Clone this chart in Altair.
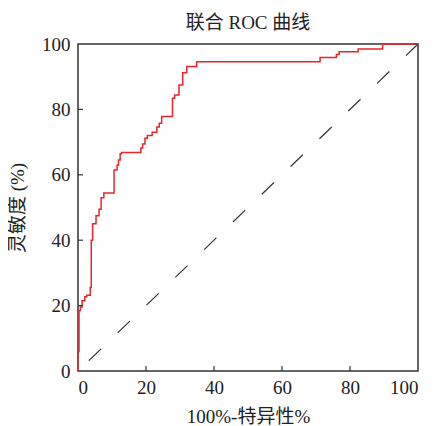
import altair as alt
import pandas as pd

# ROC curve corners (step-after): x = 100% - specificity, y = sensitivity
fpr = [0, 0, 0.3, 0.7, 1.2, 2.0, 2.6, 3.6, 3.9, 4.3, 5.3, 6.2, 6.8, 7.6, 10.6,
       11.5, 11.9, 12.4, 12.8, 18.5, 19.0, 19.7, 20.4, 21.8, 23.2, 23.9, 24.6,
       27.8, 28.4, 29.7, 30.8, 32.0, 34.9, 71.2, 76.0, 76.8, 82.4, 89.6, 100]
tpr = [0, 6, 18.5, 19.6, 21.5, 22.7, 23.2, 25.5, 40.0, 45.0, 47.5, 49.5, 53.0,
       54.4, 61.5, 63.0, 64.5, 66.4, 66.8, 68.2, 69.4, 71.2, 72.0, 73.0, 74.6,
       75.8, 77.8, 83.4, 84.4, 87.5, 91.2, 93.1, 94.6, 95.9, 96.8, 97.6, 98.5,
       100, 100]

diag_x = [0, 100]
diag_y = [0, 100]

x_ticks = [20, 40, 60, 80]
y_ticks = [20, 40, 60, 80]

FONT = "'Liberation Serif', 'Times New Roman', 'Noto Sans CJK SC', serif"
W, H = 340, 327

roc_df = pd.DataFrame({"fpr": fpr, "tpr": tpr, "i": range(len(fpr))})
diag_df = pd.DataFrame({"fpr": diag_x, "tpr": diag_y})
xt_df = pd.DataFrame({"v": x_ticks})
yt_df = pd.DataFrame({"v": y_ticks})

xscale = alt.Scale(domain=[0, 100], nice=False)
yscale = alt.Scale(domain=[0, 100], nice=False)

xaxis = alt.Axis(values=[0, 20, 40, 60, 80, 100], title="100%-特异性%", ticks=False,
                 tickSize=0, domain=False, grid=False, labelPadding=7, titlePadding=10,
                 labelFontSize=19, titleFontSize=19, labelFont=FONT, titleFont=FONT,
                 titleFontWeight="normal", labelColor="#222", titleColor="#222")
yaxis = alt.Axis(values=[0, 20, 40, 60, 80, 100], title="灵敏度 (%)", ticks=False,
                 tickSize=0, domain=False, grid=False, labelPadding=8, titlePadding=14,
                 labelFontSize=19, titleFontSize=19, labelFont=FONT, titleFont=FONT,
                 titleFontWeight="normal", labelColor="#222", titleColor="#222")

diag = alt.Chart(diag_df).mark_line(
    color="#333", strokeWidth=1.2, strokeDash=[17, 23], strokeDashOffset=25
).encode(
    x=alt.X("fpr:Q", scale=xscale, axis=xaxis),
    y=alt.Y("tpr:Q", scale=yscale, axis=yaxis),
)

roc = alt.Chart(roc_df).mark_line(
    color="#e8262a", strokeWidth=1.5, interpolate="step-after"
).encode(
    x=alt.X("fpr:Q", scale=xscale),
    y=alt.Y("tpr:Q", scale=yscale),
    order="i:Q",
)

xt = alt.Chart(xt_df).mark_rule(color="#333", strokeWidth=1.2).encode(
    x=alt.X("v:Q", scale=xscale),
    y=alt.value(H),
    y2=alt.value(H - 5),
)
yt = alt.Chart(yt_df).mark_rule(color="#333", strokeWidth=1.2).encode(
    y=alt.Y("v:Q", scale=yscale),
    x=alt.value(0),
    x2=alt.value(5),
)

chart = alt.layer(diag, roc, xt, yt).properties(
    width=W, height=H,
    padding={"left": 70, "top": 36, "right": 9, "bottom": 55},
    autosize=alt.AutoSizeParams(type="none"),
    title=alt.TitleParams("联合 ROC 曲线", fontSize=19, font=FONT, fontWeight="normal",
                          color="#222", offset=2, anchor="middle"),
).configure_view(stroke="#333", strokeWidth=1.5)

chart.save("out.html", embed_options={"renderer": "svg", "actions": False})
